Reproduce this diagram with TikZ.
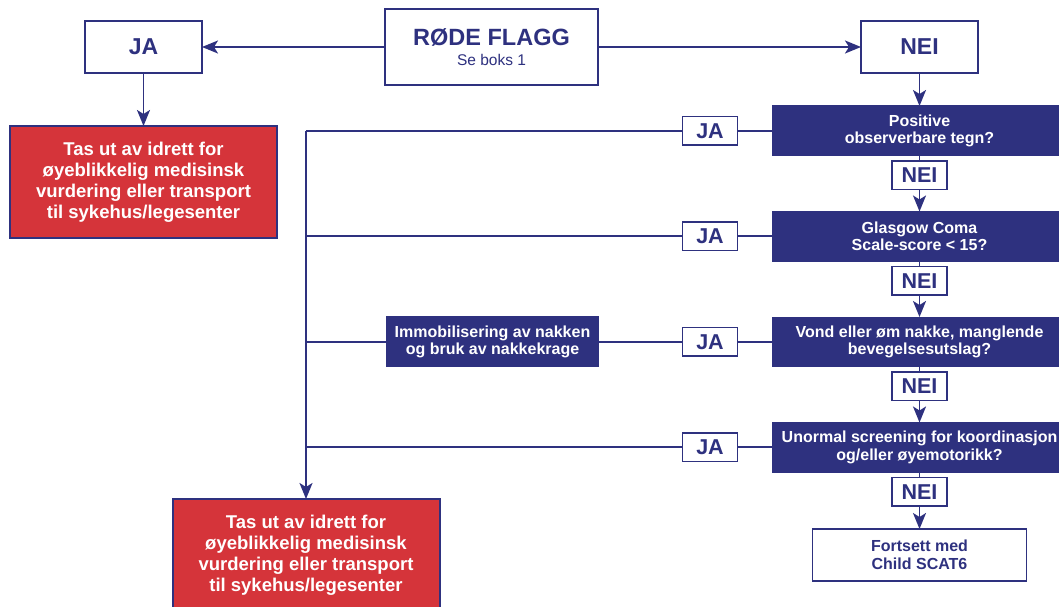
\documentclass[tikz,border=0pt]{standalone}
\usepackage{fontspec}
\setmainfont{Liberation Sans}
\usetikzlibrary{positioning,arrows.meta}
\definecolor{navy}{RGB}{46,49,127}
\definecolor{flagred}{RGB}{213,52,58}

\begin{document}
\begin{tikzpicture}[x=1pt,y=-1pt,
  line/.style={draw=navy,line width=1.9pt},
  arr/.style={line,-{Stealth[length=16pt,width=13pt,inset=4pt]}},
  wbox/.style={draw=navy,line width=1.6pt,fill=white,text=navy,outer sep=0pt,inner sep=2pt,align=center},
  bigtag/.style={wbox,minimum width=117pt,minimum height=52pt,font=\bfseries\fontsize{23}{25}\selectfont},
  tag/.style={wbox,minimum width=55pt,minimum height=28.5pt,font=\bfseries\fontsize{21.5}{23}\selectfont},
  qbox/.style={draw=navy,line width=1pt,fill=navy,text=white,outer sep=0pt,align=center,minimum width=294pt,minimum height=49.5pt,font=\bfseries\fontsize{16}{17.5}\selectfont},
  alert/.style={draw=navy,line width=2pt,fill=flagred,text=white,outer sep=0pt,align=center,minimum width=267pt,minimum height=112pt,font=\bfseries\fontsize{18.5}{21}\selectfont}]

  \useasboundingbox (0,0) rectangle (1059,607);

  \node[wbox,minimum width=213pt,minimum height=76pt,font=\bfseries\fontsize{23.5}{22}\selectfont] (flagg) at (491.5,47) {\raisebox{-2pt}{RØDE FLAGG}\\{\mdseries\fontsize{15.5}{22}\selectfont Se boks 1}};
  \node[bigtag,left=183pt of flagg] (ja) {JA};
  \node[bigtag,right=263pt of flagg] (nei) {NEI};
  \node[alert,below=53pt of ja] (stop1) {Tas ut av idrett for\\øyeblikkelig medisinsk\\vurdering eller transport\\til sykehus/legesenter};

  %question column
  \node[qbox,below=33pt of nei] (q1) {Positive\\observerbare tegn?};
  \node[tag,below=5.5pt of q1] (n1) {NEI};
  \node[qbox,below=22pt of n1] (q2) {Glasgow Coma\\Scale-score < 15?};
  \node[tag,below=5.5pt of q2] (n2) {NEI};
  \node[qbox,below=22pt of n2] (q3) {Vond eller øm nakke, manglende\\bevegelsesutslag?};
  \node[tag,below=5.5pt of q3] (n3) {NEI};
  \node[qbox,below=22pt of n3] (q4) {Unormal screening for koordinasjon\\og/eller øyemotorikk?};
  \node[tag,below=5.5pt of q4] (n4) {NEI};
  \node[wbox,minimum width=214pt,minimum height=52pt,font=\bfseries\fontsize{16}{17.5}\selectfont,below=23pt of n4] (fortsett) {Fortsett med\\Child SCAT6};

  %ja column
  \node[tag,left=35pt of q1] (j1) {JA};
  \node[tag,left=35pt of q2] (j2) {JA};
  \node[tag,left=35pt of q3] (j3) {JA};
  \node[tag,left=35pt of q4] (j4) {JA};
  \node[qbox,minimum width=212pt,minimum height=50pt,left=84pt of j3] (immob) {Immobilisering av nakken\\og bruk av nakkekrage};

  \coordinate (spine) at (306,0);
  \node[alert] (stop2) at (306,555) {Tas ut av idrett for\\øyeblikkelig medisinsk\\vurdering eller transport\\til sykehus/legesenter};

  %top row
  \draw[arr] (flagg) -- (ja);
  \draw[arr] (flagg) -- (nei);
  \draw[arr] (ja) -- (stop1);
  \draw[arr] (nei) -- (q1);

  %nei chain
  \draw[line] (q1) -- (n1);
  \draw[arr] (n1) -- (q2);
  \draw[line] (q2) -- (n2);
  \draw[arr] (n2) -- (q3);
  \draw[line] (q3) -- (n3);
  \draw[arr] (n3) -- (q4);
  \draw[line] (q4) -- (n4);
  \draw[arr] (n4) -- (fortsett);

  %ja lines
  \draw[line] (q1) -- (j1) -- (j1 -| spine);
  \draw[line] (q2) -- (j2) -- (j2 -| spine);
  \draw[line] (q3) -- (j3) -- (immob) -- (immob -| spine);
  \draw[line] (q4) -- (j4) -- (j4 -| spine);
  \draw[arr] (j1 -| spine) -- (stop2);
\end{tikzpicture}
\end{document}
